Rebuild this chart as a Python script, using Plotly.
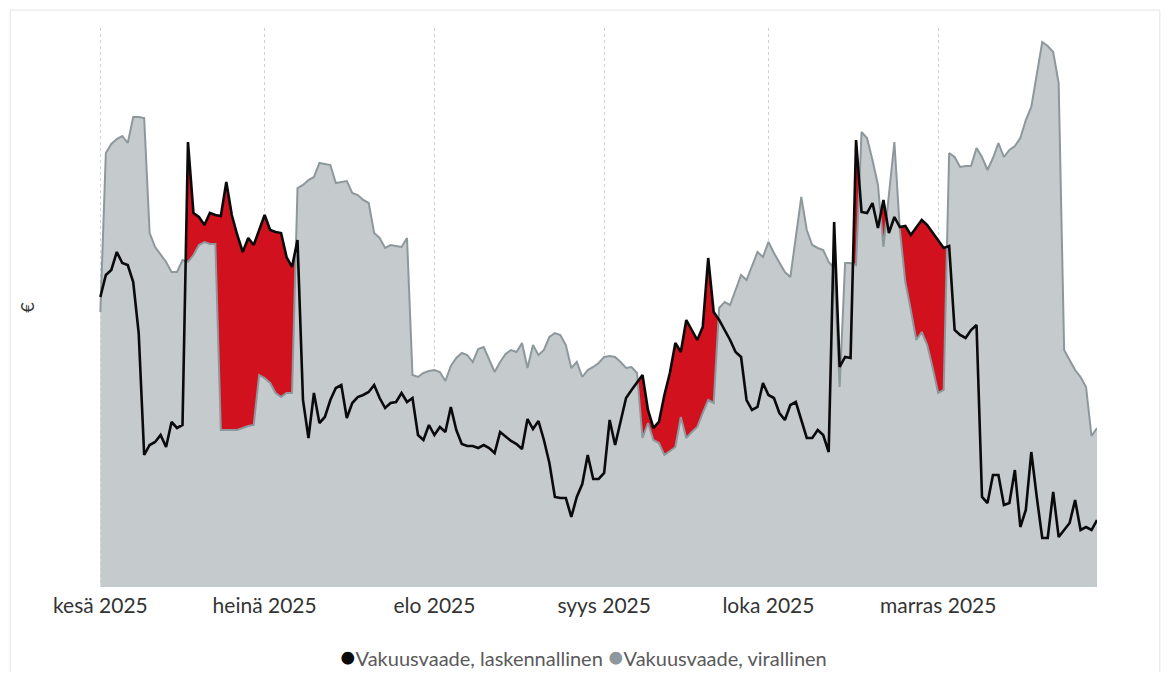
import numpy as np
import pandas as pd
import plotly.graph_objects as go

# daily values, 1.6.2025 - 30.11.2025
DAYS = pd.date_range("2025-06-01", "2025-11-30", freq="D")

virallinen = [
    275, 434, 443, 448, 451, 444, 470, 470, 469, 354, 340, 333, 325, 315, 315, 327, 325, 332, 342, 345,
    343, 343, 157, 157, 157, 157, 159, 161, 162, 212, 209, 204, 194, 190, 194, 194, 399, 402, 407, 410,
    424, 423, 422, 404, 405, 406, 394, 392, 387, 384, 354, 349, 339, 342, 341, 340, 349, 212, 210, 214,
    216, 217, 215, 206, 221, 229, 234, 232, 225, 238, 240, 227, 215, 225, 233, 237, 235, 244, 219, 242,
    232, 237, 250, 254, 252, 242, 219, 225, 210, 217, 220, 224, 230, 231, 230, 225, 219, 220, 214, 149,
    164, 147, 144, 132, 136, 140, 170, 149, 155, 160, 174, 187, 184, 279, 285, 282, 297, 312, 307, 322,
    335, 330, 345, 334, 325, 315, 310, 350, 390, 357, 342, 339, 337, 325, 319, 200, 324, 324, 322, 455,
    449, 427, 402, 340, 392, 445, 357, 305, 277, 247, 255, 242, 219, 194, 197, 434, 430, 420, 421, 421,
    439, 430, 417, 429, 444, 430, 437, 441, 449, 467, 480, 514, 545, 541, 535, 504, 237, 227, 217, 210,
    200, 151, 159,
]

laskennallinen = [
    290, 312, 317, 335, 324, 322, 305, 254, 132, 142, 145, 152, 140, 165, 159, 162, 445, 374, 370, 362,
    374, 372, 371, 405, 372, 352, 335, 349, 342, 357, 372, 357, 355, 354, 330, 320, 347, 187, 149, 194,
    164, 170, 187, 199, 202, 169, 184, 190, 192, 195, 202, 189, 179, 184, 185, 194, 185, 189, 152, 147,
    162, 152, 160, 155, 180, 157, 143, 141, 141, 139, 142, 139, 134, 155, 150, 146, 143, 138, 168, 158,
    166, 147, 124, 90, 89, 89, 70, 90, 103, 132, 108, 108, 114, 167, 142, 167, 189, 197, 204, 212,
    177, 159, 165, 192, 214, 244, 235, 267, 257, 247, 260, 329, 275, 267, 257, 247, 235, 230, 187, 177,
    180, 204, 192, 189, 174, 167, 182, 185, 167, 149, 149, 157, 152, 135, 365, 220, 230, 229, 447, 375,
    374, 384, 359, 387, 354, 370, 360, 361, 352, 359, 367, 362, 354, 347, 339, 341, 257, 252, 249, 257,
    262, 90, 84, 112, 112, 82, 84, 117, 60, 77, 135, 90, 49, 49, 95, 50, 57, 64, 87, 57,
    60, 57, 67,
]

MONTH_TICKS = ["2025-06-01", "2025-07-01", "2025-08-01", "2025-09-01", "2025-10-01", "2025-11-01"]
MONTH_LABELS = ["kesä 2025", "heinä 2025", "elo 2025", "syys 2025", "loka 2025", "marras 2025"]
SERIES_NAMES = ["Vakuusvaade, laskennallinen", "Vakuusvaade, virallinen"]

GRAY_FILL = "#c5cacd"
GRAY_LINE = "#8d989d"
RED = "#d2111e"
BLACK = "#0a0a0a"
FONT = "Lato"

# red band where laskennallinen > virallinen, with crossing points added
t = DAYS.values.astype("datetime64[ms]").astype(np.int64).astype(float)
g = np.array(virallinen, dtype=float)
b = np.array(laskennallinen, dtype=float)
bx, lo, hi = [], [], []
for i in range(len(t)):
    bx.append(t[i]); lo.append(g[i]); hi.append(max(b[i], g[i]))
    if i < len(t) - 1:
        d0, d1 = b[i] - g[i], b[i + 1] - g[i + 1]
        if d0 * d1 < 0:
            f = d0 / (d0 - d1)
            bx.append(t[i] + f * (t[i + 1] - t[i]))
            yc = g[i] + f * (g[i + 1] - g[i])
            lo.append(yc); hi.append(yc)
bx = pd.to_datetime(np.array(bx).astype(np.int64), unit="ms")

fig = go.Figure()
fig.add_trace(go.Scatter(x=DAYS, y=virallinen, mode="lines", fill="tozeroy",
                         fillcolor=GRAY_FILL, line=dict(width=0), hoverinfo="skip"))
fig.add_trace(go.Scatter(x=bx, y=lo, mode="lines", line=dict(width=0), hoverinfo="skip"))
fig.add_trace(go.Scatter(x=bx, y=hi, mode="lines", line=dict(width=0), fill="tonexty",
                         fillcolor=RED, hoverinfo="skip"))
fig.add_trace(go.Scatter(x=DAYS, y=virallinen, mode="lines", name=SERIES_NAMES[1],
                         line=dict(color=GRAY_LINE, width=2)))
fig.add_trace(go.Scatter(x=DAYS, y=laskennallinen, mode="lines", name=SERIES_NAMES[0],
                         line=dict(color=BLACK, width=2.6)))

# legend drawn as text with round markers, like the original
legend_text = (f"<span style='color:{BLACK};font-size:26px'>●</span>{SERIES_NAMES[0]} "
               f"<span style='color:{GRAY_LINE};font-size:26px'>●</span>{SERIES_NAMES[1]}")

# page body has 8px margin -> figure is 16px smaller than the window
fig.update_layout(
    width=1155, height=664,
    paper_bgcolor="white", plot_bgcolor="white",
    font=dict(family=FONT, color="#333333"),
    margin=dict(l=91, r=66, t=20, b=85),
    showlegend=False,
    annotations=[dict(text=legend_text, xref="paper", yref="paper", x=0.485, y=-0.123,
                      xanchor="center", yanchor="middle", showarrow=False,
                      font=dict(size=20, color="#5a5a5a", family=FONT))],
    shapes=[dict(type="rect", xref="paper", yref="paper",
                 x0=-0.089, x1=1.063, y0=-0.17, y1=1.032,
                 line=dict(color="#e3e3e3", width=1), layer="below")],
)
fig.update_xaxes(
    range=[pd.Timestamp("2025-05-31 18:00"), DAYS[-1]],
    tickvals=pd.to_datetime(MONTH_TICKS), ticktext=MONTH_LABELS,
    tickfont=dict(size=21, color="#333333"),
    showgrid=True, gridcolor="#d0d0d0", griddash="dot", gridwidth=1,
    showline=False, zeroline=False, ticks="", ticklabelstandoff=4,
)
fig.update_yaxes(
    range=[0, 559], showticklabels=False, showgrid=False, zeroline=False,
    title=dict(text="€", font=dict(size=18, color="#333333"), standoff=58),
    automargin=False,
)

fig.write_html("out.html")
